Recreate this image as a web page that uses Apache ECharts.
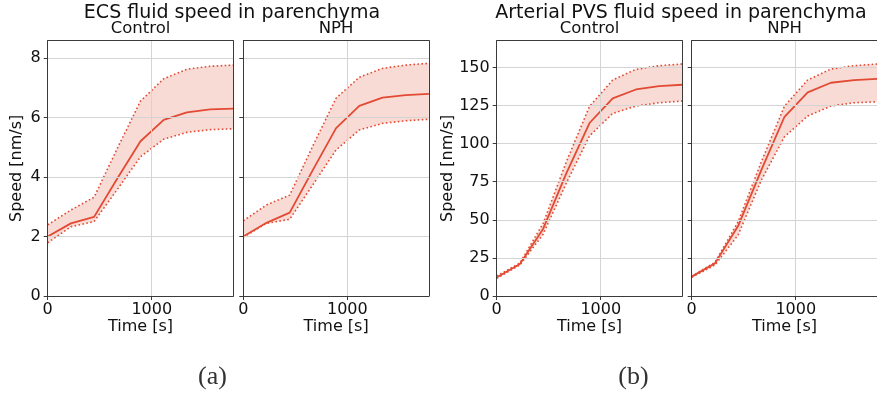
<!DOCTYPE html>
<html>
<head>
<meta charset="utf-8">
<script src="https://cdn.jsdelivr.net/npm/echarts@6/dist/echarts.min.js"></script>
<style>
html,body{margin:0;padding:0;background:#fff;}
#chart{width:877px;height:394px;}
</style>
</head>
<body>
<div id="chart"></div>
<script>
// ---- data ----
const times = [0, 223, 446, 669, 892, 1115, 1338, 1561, 1784];

const ecsControlMean  = [2.00, 2.44, 2.66, 3.95, 5.20, 5.92, 6.17, 6.27, 6.30];
const ecsControlUpper = [2.39, 2.89, 3.32, 4.96, 6.55, 7.30, 7.62, 7.72, 7.76];
const ecsControlLower = [1.79, 2.33, 2.50, 3.58, 4.68, 5.27, 5.50, 5.59, 5.62];

const ecsNphMean  = [2.00, 2.46, 2.80, 4.24, 5.64, 6.39, 6.67, 6.75, 6.79];
const ecsNphUpper = [2.53, 3.06, 3.39, 5.05, 6.65, 7.35, 7.65, 7.76, 7.82];
const ecsNphLower = [1.98, 2.44, 2.58, 3.74, 4.91, 5.58, 5.80, 5.89, 5.94];

const pvsControlMean  = [12.2, 21.0, 44.0, 80.5, 113.5, 129.7, 135.5, 137.7, 138.6];
const pvsControlUpper = [13.1, 21.6, 47.6, 88.0, 124.4, 141.7, 148.7, 151.1, 152.2];
const pvsControlLower = [11.6, 20.3, 40.5, 74.0, 105.0, 119.8, 124.6, 126.8, 127.9];

const pvsNphMean  = [12.7, 21.4, 45.9, 82.6, 117.6, 133.6, 139.9, 141.7, 142.5];
const pvsNphUpper = [13.0, 22.0, 48.7, 88.0, 124.6, 141.7, 148.9, 151.1, 152.2];
const pvsNphLower = [12.3, 20.3, 40.0, 76.0, 104.5, 118.1, 124.6, 126.8, 127.4];

const xTicks = [0, 1000];
const ecsYTicks = [0, 2, 4, 6, 8];
const pvsYTicks = [0, 25, 50, 75, 100, 125, 150];

const panelTitles = ['ECS fluid speed in parenchyma', 'Arterial PVS fluid speed in parenchyma'];
const groupNames = ['Control', 'NPH', 'Control', 'NPH'];
const captions = ['(a)', '(b)'];
const xName = 'Time [s]';
const yName = 'Speed [nm/s]';

// ---- chart ----
const RED = '#E24A33';
const BAND = 'rgba(226,74,51,0.2)';
const TXT = '#111';
const FRAME = '#3a3a3a';
const FONT = 'DejaVu Sans';

const panels = [
  {mean: ecsControlMean, upper: ecsControlUpper, lower: ecsControlLower, ymax: 8.58, yint: 2, yticks: ecsYTicks, showY: true, nameGap: 23},
  {mean: ecsNphMean, upper: ecsNphUpper, lower: ecsNphLower, ymax: 8.58, yint: 2, yticks: ecsYTicks, showY: false, nameGap: 23},
  {mean: pvsControlMean, upper: pvsControlUpper, lower: pvsControlLower, ymax: 167.5, yint: 25, yticks: pvsYTicks, showY: true, nameGap: 41},
  {mean: pvsNphMean, upper: pvsNphUpper, lower: pvsNphLower, ymax: 167.5, yint: 25, yticks: pvsYTicks, showY: false, nameGap: 41}
];
const gridPos = [
  {left: 47.7, top: 40.7, width: 185.6, height: 255.3},
  {left: 243.3, top: 40.7, width: 185.6, height: 255.3},
  {left: 496.7, top: 40.7, width: 185.6, height: 255.3},
  {left: 691.7, top: 40.7, width: 185.6, height: 255.3}
];

const grid = [], xAxis = [], yAxis = [], series = [];
const frameOnly = {
  axisLine: {show: true, onZero: false, lineStyle: {color: FRAME, width: 1}},
  axisTick: {show: false}, axisLabel: {show: false}, splitLine: {show: false}, z: 5
};
panels.forEach((p, i) => {
  grid.push(Object.assign({show: false, containLabel: false, outerBoundsMode: 'none'}, gridPos[i]));
  xAxis.push({
    type: 'value', gridIndex: i, position: 'bottom', min: 0, max: times[times.length - 1], interval: 1000,
    name: xName, nameLocation: 'middle', nameGap: 23, nameMoveOverlap: false,
    nameTextStyle: {fontFamily: FONT, fontSize: 16, color: TXT},
    axisLine: {show: true, onZero: false, lineStyle: {color: FRAME, width: 1}},
    axisTick: {show: true, length: 4, inside: false, customValues: xTicks, lineStyle: {color: FRAME}},
    axisLabel: {show: true, margin: 6, fontFamily: FONT, fontSize: 16, color: TXT,
      formatter: v => (xTicks.indexOf(v) >= 0 ? String(v) : '')},
    splitLine: {show: true, lineStyle: {color: '#d4d4d4', width: 1}}, z: 5
  });
  yAxis.push({
    type: 'value', gridIndex: i, position: 'left', min: 0, max: p.ymax, interval: p.yint,
    name: p.showY ? yName : '', nameLocation: 'middle', nameGap: p.nameGap, nameMoveOverlap: false,
    nameTextStyle: {fontFamily: FONT, fontSize: 16, color: TXT},
    axisLine: {show: true, onZero: false, lineStyle: {color: FRAME, width: 1}},
    axisTick: {show: true, length: 4, inside: false, customValues: p.yticks, lineStyle: {color: FRAME}},
    axisLabel: {show: p.showY, margin: 7, fontFamily: FONT, fontSize: 16, color: TXT,
      formatter: v => (p.yticks.indexOf(v) >= 0 ? String(v) : '')},
    splitLine: {show: true, lineStyle: {color: '#d4d4d4', width: 1}}, z: 5
  });
});
// frame axes (top and right spines)
panels.forEach((p, i) => {
  xAxis.push(Object.assign({type: 'value', gridIndex: i, position: 'top', min: 0, max: times[times.length - 1]}, frameOnly));
  yAxis.push(Object.assign({type: 'value', gridIndex: i, position: 'right', min: 0, max: p.ymax}, frameOnly));
});
panels.forEach((p, i) => {
  // shaded band between lower and upper bounds
  series.push({
    type: 'custom', xAxisIndex: i, yAxisIndex: i, silent: true, z: 2,
    data: times.map((t, k) => [t, p.lower[k], p.upper[k]]),
    encode: {x: 0, y: [1, 2]},
    renderItem: (params, api) => {
      if (params.dataIndex !== 0) return null;
      const pts = [];
      for (let k = 0; k < times.length; k++) pts.push(api.coord([times[k], p.upper[k]]));
      for (let k = times.length - 1; k >= 0; k--) pts.push(api.coord([times[k], p.lower[k]]));
      return {
        type: 'polygon', shape: {points: pts},
        style: {fill: BAND, stroke: null},
        clipPath: {type: 'rect', shape: {x: params.coordSys.x, y: params.coordSys.y, width: params.coordSys.width, height: params.coordSys.height}}
      };
    }
  });
  // lower and upper dotted bounds
  [p.lower, p.upper].forEach(arr => series.push({
    type: 'line', xAxisIndex: i, yAxisIndex: i, symbol: 'none', silent: true, z: 3,
    data: times.map((t, k) => [t, arr[k]]),
    lineStyle: {color: RED, width: 1.6, type: [1.6, 2.4]}
  }));
  // mean
  series.push({
    type: 'line', xAxisIndex: i, yAxisIndex: i, symbol: 'none', silent: true, z: 4,
    data: times.map((t, k) => [t, p.mean[k]]),
    lineStyle: {color: RED, width: 1.8}
  });
});

const graphic = [];
const titleX = [232, 681];
panelTitles.forEach((t, i) => graphic.push({
  type: 'text', x: titleX[i], y: 12.7,
  style: {text: t, font: '19px "DejaVu Sans"', fill: TXT, textAlign: 'center', textVerticalAlign: 'middle', align: 'center', verticalAlign: 'middle'}
}));
groupNames.forEach((t, i) => graphic.push({
  type: 'text', x: gridPos[i].left + gridPos[i].width / 2, y: 28.7,
  style: {text: t, font: '16.5px "DejaVu Sans"', fill: TXT, textAlign: 'center', textVerticalAlign: 'middle', align: 'center', verticalAlign: 'middle'}
}));
const capX = [212.5, 633.5];
captions.forEach((t, i) => graphic.push({
  type: 'text', x: capX[i], y: 377,
  style: {text: t, font: '26px "Liberation Serif"', fill: '#333', textAlign: 'center', textVerticalAlign: 'middle', align: 'center', verticalAlign: 'middle'}
}));

const chart = echarts.init(document.getElementById('chart'), null, {renderer: 'canvas', width: 877, height: 394});
chart.setOption({
  animation: false,
  backgroundColor: '#fff',
  textStyle: {fontFamily: FONT},
  grid, xAxis, yAxis, series, graphic
});
</script>
</body>
</html>
